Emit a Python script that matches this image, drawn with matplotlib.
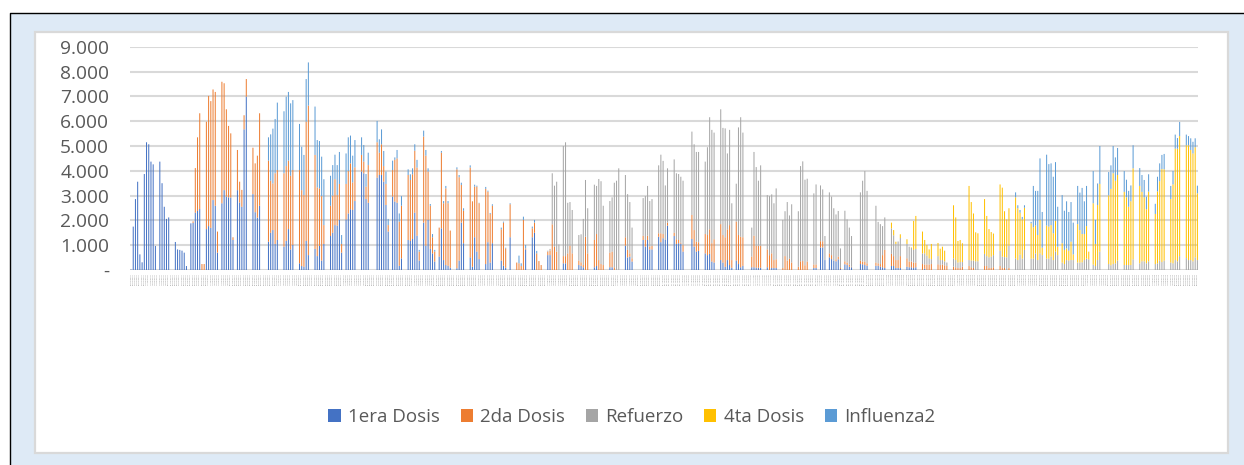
import numpy as np
import pandas as pd
import matplotlib
matplotlib.use('Agg')
import matplotlib.pyplot as plt
from matplotlib.patches import Rectangle
from matplotlib.lines import Line2D

W,H=1244,465

NOMBRES=['1era Dosis','2da Dosis','Refuerzo','4ta Dosis','Influenza2']
COLORES=['#4472C4','#ED7D31','#A5A5A5','#FFC000','#5B9BD5']

y_ticks=[0,1000,2000,3000,4000,5000,6000,7000,8000,9000]
y_labels=['-','1.000','2.000','3.000','4.000','5.000','6.000','7.000','8.000','9.000']

#dias con barra, semana por semana
dias=[0,1,2,3,4,5,
 6,7,8,9,10,11,
 13,14,15,16,17,
 20,21,22,23,24,25,
 27,28,29,30,31,32,33,
 34,35,36,37,38,39,
 41,42,43,44,45,46,
 48,49,50,51,52,
 55,56,57,58,
 62,63,64,65,66,
 69,70,71,72,73,
 76,77,78,79,80,
 83,84,85,86,87,
 90,91,92,93,94,95,
 97,98,99,100,101,
 104,105,106,107,
 111,112,113,114,115,116,
 118,119,120,121,122,
 125,126,127,128,129,130,
 132,133,134,135,136,137,
 139,140,141,142,143,144,
 147,148,149,150,
 153,154,155,156,157,
 160,161,162,163,
 167,168,169,171,
 174,175,176,177,178,
 181,182,183,184,185,
 188,189,190,191,192,193,
 195,196,197,198,199,
 202,203,204,205,206,
 209,210,211,212,213,
 216,217,218,219,220,
 223,224,225,226,
 231,232,233,234,235,
 238,239,240,241,242,
 245,246,247,248,249,
 253,254,255,256,
 259,260,261,262,263,
 266,267,268,269,270,271,
 273,274,275,276,
 280,281,282,283,284,
 287,288,289,290,291,
 294,295,296,297,298,
 301,302,303,304,305,
 308,309,
 311,312,313,
 315,316,317,318,319,320,
 322,323,324,325,
 329,330,331,332,
 336,337,338,339,340,
 343,344,345,346,347,
 350,351,352,353,354,
 357,358,359,360,361,
 364,365,366,367,368,
 371,372,373,374,375,
 378,379,380,381,382,
 385,386,387,388,389,
 392,393,394,395,396,
 399,400,401,402,403,
 406,407,408,409,410,411,
 413,414,415,416,417,418,
 420,421,422,423,424,425,
 427,428,429,430,431,432,
 434,435,436,437,
 441,442,443,444,445,
 448,449,450,451,452,
 455,456,457,458,459,
 462,463,464,465,466,
 469,470,471,472,473,
 476,477,478,479,480,481]

#alturas: hasta donde llega cada serie en la pila
tope_1era=[20,1750,2860,3560,630,310,
 3870,5150,5070,4370,4260,970,
 4370,3500,2550,2060,2120,
 1130,830,810,780,700,160,
 1880,1900,2310,2380,2460,0,0,
 1650,1770,1700,2820,2590,700,
 2690,3220,2960,2930,2920,1210,
 3220,2720,2550,5670,6990,
 3060,2330,2110,2590,
 1140,1500,1610,1050,1210,
 940,1170,1650,830,1010,
 270,160,130,1170,600,
 850,560,970,380,1050,
 1370,1500,1810,1790,2020,700,
 2040,2280,2450,2420,2780,
 3970,3900,2860,2710,
 3720,3830,3830,3560,2620,1550,
 2960,2760,2710,170,470,
 1210,1170,1250,2310,1380,380,
 1910,980,2020,850,670,340,
 540,1680,400,200,170,90,
 70,380,1910,1080,
 510,130,1320,740,440,
 240,1120,300,1080,
 380,170,90,1320,
 0,0,0,0,830,
 1320,1500,0,0,0,
 600,600,0,0,0,0,
 270,270,0,0,0,
 200,170,110,0,0,
 110,160,0,0,0,
 110,110,0,0,0,
 980,510,540,340,
 1210,940,1210,830,830,
 1340,1120,1280,1210,1790,
 1370,1050,1080,1060,740,
 1250,940,740,770,
 670,600,650,340,300,
 400,300,130,400,200,90,
 380,240,110,170,
 110,110,90,90,90,
 110,0,80,80,80,
 0,0,0,0,0,
 0,0,0,0,0,
 80,80,
 910,910,400,
 510,440,380,350,430,40,
 230,200,130,110,
 240,230,200,170,
 170,170,130,110,80,
 160,160,80,80,80,
 130,110,110,80,110,
 0,50,0,0,0]

#desde el dia 28
tope_2da=[1960,4110,5350,6320,240,240,
 5980,7020,6810,7280,7180,1550,
 7590,7530,6480,5810,5510,1320,
 4840,3560,3230,6240,7700,
 4930,4300,4610,6320,
 4410,3600,3490,3900,4030,
 3900,4190,4410,3800,4030,
 4030,3220,3020,5980,6630,
 4640,3330,3290,2980,1810,
 2590,3000,3660,3020,3470,1050,
 3470,3990,4300,3530,4140,
 4640,4370,3360,4230,
 5150,4730,5070,4190,3470,1810,
 4030,4440,4500,1950,2590,
 3830,3630,3860,4810,4130,740,
 5380,4610,3970,2590,1320,740,
 1710,4730,2690,3290,2690,1590,
 4060,3740,3430,2390,
 4130,2770,3360,3360,2690,
 3270,3160,2260,2590,
 1640,1910,870,2650,
 300,270,160,2020,870,
 1680,1910,670,360,200,
 740,780,1840,940,740,0,
 560,560,670,980,670,
 380,310,200,1340,670,
 1210,1450,400,240,200,
 700,740,110,0,0,
 1320,810,670,470,
 1380,1210,1380,940,970,
 1480,1480,1450,1210,1910,
 1500,1240,1210,1100,1000,
 2220,1610,1140,1120,
 1450,1410,1640,1080,1240,
 1850,1410,1320,1640,1810,400,
 1950,1410,1340,1320,
 540,1380,970,980,980,
 830,600,670,400,430,
 80,560,380,460,300,
 130,350,360,190,340,
 220,220,
 1160,1160,400,
 670,600,380,430,540,80,
 350,300,220,130,
 380,340,340,270,
 300,270,240,600,810,
 650,560,400,400,560,
 470,340,340,300,300,
 240,220,220,220,240,
 230,200,220,190,160,
 130,110,80,80,130,
 160,110,80,0,0,
 160,160,80,80,110,
 160,80,80,0,80]

#desde el dia 188
tope_refuerzo=[780,850,3900,3400,3560,1030,
 5000,5150,2710,2740,2420,
 1410,1440,2060,3630,2490,
 3440,3390,3670,3580,2590,
 2780,2930,3520,3600,4100,
 3830,3060,2740,1710,
 2900,2980,3390,2780,2860,
 4220,4650,4400,3410,4100,
 4460,3900,3870,3760,3600,
 5580,5070,4760,4760,
 4370,4950,6160,5650,5540,
 6480,5730,5710,4700,5650,2690,
 3480,5750,6160,5540,
 1710,4760,4150,3600,4220,
 3020,2980,3050,2690,3290,
 2020,2370,2740,2200,2650,
 2370,4190,4380,3640,3680,
 3090,3450,
 3410,3250,1370,
 3130,2960,2490,2240,2380,870,
 2390,2040,1710,1370,
 3130,3600,3990,3190,
 2590,1940,1850,1770,2120,
 1680,1400,1050,1150,1290,
 1050,940,890,810,850,
 670,670,580,470,440,
 560,400,400,350,300,
 470,400,300,320,320,
 400,380,380,350,350,
 650,560,510,540,600,
 780,540,520,510,980,
 470,400,620,460,810,
 460,460,670,400,670,600,
 460,460,540,400,740,600,
 300,240,400,380,400,400,
 300,300,310,400,460,430,
 220,160,400,740,
 240,190,240,270,380,
 200,200,200,200,430,
 270,350,350,270,350,
 240,270,380,320,380,
 300,270,400,350,560,
 480,400,400,350,510,400]

#desde el dia 343
tope_4ta=[1910,1610,1140,1100,1440,
 1240,940,910,1980,2180,
 1550,1210,1010,830,1050,
 1090,860,940,780,300,
 2610,2120,1170,1210,1080,
 3390,2740,2280,1520,1480,
 2860,2180,1650,1530,1470,
 3450,3320,2370,2040,2490,
 2930,2490,2310,2040,2510,
 1880,1720,1790,1410,2020,900,
 1790,1750,1810,1480,1980,940,
 1080,810,870,780,1140,630,
 1850,1610,1450,1450,1770,740,
 2690,1050,2620,3470,
 3010,3270,3900,3600,3830,
 3150,2930,2550,2770,4100,
 3390,3150,2930,2450,3160,
 2260,3170,3580,4070,4060,
 2860,3450,4890,4890,5400,
 5030,5030,4840,4700,4950,3090]

#influenza sale en dos tramos: dias 62 a 185 y desde el 399
tope_influenza_a=[5350,5470,5700,6090,6750,
 6400,6990,7180,6720,6850,
 5890,4970,4640,7700,8370,
 6590,5240,5200,4570,3660,
 3800,4230,4650,4230,4760,1410,
 4700,5350,5420,4610,5240,
 5350,5040,3870,4730,
 6010,5270,5670,4800,3970,2060,
 4410,4540,4840,2280,2980,
 4060,3860,4100,5070,4440,810,
 5620,4840,4100,2660,1450,810,
 1710,4800,2780,3390,2780,1590,
 4140,3830,3520,2490,
 4220,2770,3440,3400,2710,
 3350,3200,2300,2650,
 1710,1950,900,2690,
 300,580,270,2150,1010,
 1750,2020,770,360,200]

tope_influenza_b=[3130,2610,2420,2140,2610,
 1940,3390,3190,3190,4500,2340,
 4650,4270,4300,3760,4350,2550,
 3020,2390,2770,2340,2740,1910,
 3390,3120,3310,2770,3390,740,
 3990,2020,3490,5000,
 3950,4220,5000,4540,4920,
 3990,3640,3190,3410,5030,
 4110,3830,3630,2960,3860,
 2670,3760,4300,4640,4680,
 3390,3990,5460,5320,5970,
 5460,5400,5310,5170,5310,3400]

dias=np.array(dias)

def colocar(desde,valores):
    #pone los valores en su lugar de dias, ceros en el resto
    out=np.zeros(len(dias))
    i=np.searchsorted(dias,desde)
    out[i:i+len(valores)]=valores
    return out

topes=np.array([
    colocar(0,tope_1era),
    colocar(28,tope_2da),
    colocar(188,tope_refuerzo),
    colocar(343,tope_4ta),
    colocar(62,tope_influenza_a)+colocar(399,tope_influenza_b),
])
topes=np.maximum.accumulate(topes,axis=0)

plt.rcParams['font.family']=['Open Sans','DejaVu Sans']
fig=plt.figure(figsize=(W/100,H/100),dpi=100,facecolor='white')

#fondo: azul claro, panel blanco y la linea negra arriba y a la izquierda
fig.patches.append(Rectangle((9.5/W,0),(W-9.5)/W,(H-13.5)/H,transform=fig.transFigure,fc='#DEEAF6',lw=0,zorder=-3))
fig.patches.append(Rectangle((34.5/W,(H-452.5)/H),1193/W,420/H,transform=fig.transFigure,fc='white',ec='#D9D9D9',lw=1.6,zorder=-2))
fig.lines.append(Line2D([9.5/W,9.5/W,1],[0,(H-13.5)/H,(H-13.5)/H],transform=fig.transFigure,color='black',lw=1,zorder=-1))

ax=fig.add_axes([129.9/W,(H-270)/H,1068.6/W,223.2/H])
ax.patch.set_visible(False)

abajo=np.zeros(len(dias))
for k in range(5):
    barras=ax.bar(dias,topes[k]-abajo,bottom=abajo,width=0.45,color=COLORES[k],label=NOMBRES[k],linewidth=0,zorder=3)
    for b in barras: b.set_snap(False) #sin snap quedan palidas como en el original
    abajo=topes[k]

ax.set_xlim(-0.5,481.5)
ax.set_ylim(0,9000)
ax.set_yticks(y_ticks)
ax.set_yticklabels(y_labels,fontsize=13.8,color='#595959')
ax.grid(axis='y',color='#D9D9D9',lw=1.5,zorder=0)
ax.set_axisbelow(True)
ax.tick_params(axis='y',length=0,pad=15)
for s in ax.spines.values(): s.set_visible(False)

#fechas minusculas del eje x, ilegibles en el original
fechas=pd.date_range('2021-02-03',periods=482).strftime('%d/%m/%Y')
ax.set_xticks(np.arange(482))
ax.set_xticklabels(fechas,rotation=90,fontsize=1.6,color='#7f7f7f')
ax.tick_params(axis='x',length=0,pad=2)

ax.legend(loc='center',bbox_to_anchor=(632/W,(H-417)/H),bbox_transform=fig.transFigure,ncol=5,frameon=False,
          fontsize=13.5,labelcolor='#595959',handlelength=0.65,handleheight=0.65,handletextpad=0.4,columnspacing=1.1)

fig.savefig('out.png',dpi=100,facecolor=fig.get_facecolor())
